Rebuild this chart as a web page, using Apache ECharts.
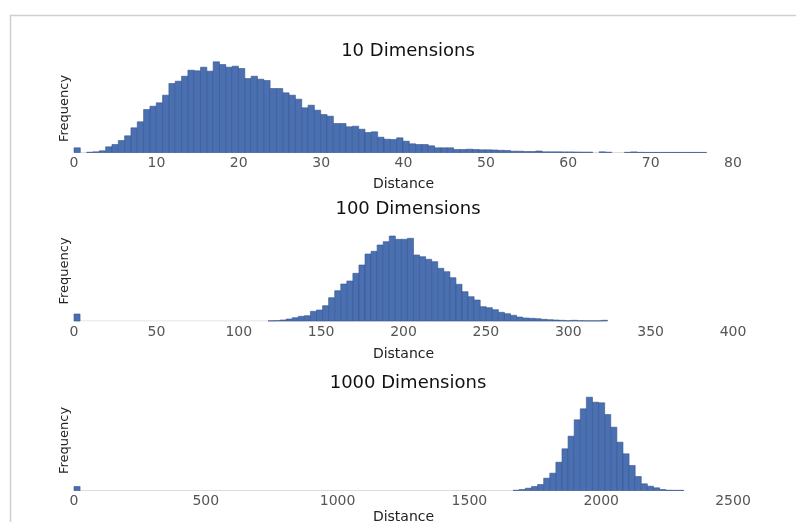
<!DOCTYPE html>
<html>
<head>
<meta charset="utf-8">
<script src="https://cdn.jsdelivr.net/npm/echarts@6/dist/echarts.min.js"></script>
<style>
html,body{margin:0;padding:0;background:#fff;}
#c{width:796px;height:522px;}
</style>
</head>
<body>
<div id="c"></div>
<script>
// ---------- DATA ----------
const titles = ['10 Dimensions', '100 Dimensions', '1000 Dimensions'];
const xMax = [80, 400, 2500];
const xInterval = [10, 50, 500];
const binWidths = [0.768, 3.68, 23.14];

// frequencies per bin, bin i covers [i*w, (i+1)*w]
const counts10 = [
  47, 0, 3, 7, 17, 57, 80, 120, 167, 247,
  307, 430, 463, 497, 573, 690, 713, 763, 823, 817,
  853, 813, 907, 880, 853, 863, 840, 740, 763, 733,
  720, 640, 640, 597, 573, 533, 447, 473, 423, 380,
  363, 290, 290, 257, 263, 233, 200, 207, 153, 133,
  130, 147, 113, 87, 80, 80, 67, 47, 47, 47,
  30, 30, 33, 30, 27, 27, 25, 22, 20, 13,
  13, 10, 10, 15, 7, 7, 7, 6, 6, 5,
  4, 4, 0, 7, 3, 0, 0, 2, 6, 2,
  1, 1, 1, 1, 1, 1, 1, 1, 1, 1
];
const counts100 = [
  70, 0, 0, 0, 0, 0, 0, 0, 0, 0,
  0, 0, 0, 0, 0, 0, 0, 0, 0, 0,
  0, 0, 0, 0, 0, 0, 0, 0, 0, 0,
  0, 0, 2, 4, 10, 20, 33, 47, 53, 97,
  110, 153, 233, 303, 370, 400, 477, 560, 670, 697,
  760, 793, 850, 817, 817, 827, 660, 643, 617, 593,
  527, 493, 433, 367, 293, 243, 210, 143, 133, 113,
  87, 73, 57, 40, 30, 27, 23, 17, 13, 10,
  7, 3, 7, 3, 2, 2, 2, 7
];
const counts1000 = [
  40, 0, 0, 0, 0, 0, 0, 0, 0, 0,
  0, 0, 0, 0, 0, 0, 0, 0, 0, 0,
  0, 0, 0, 0, 0, 0, 0, 0, 0, 0,
  0, 0, 0, 0, 0, 0, 0, 0, 0, 0,
  0, 0, 0, 0, 0, 0, 0, 0, 0, 0,
  0, 0, 0, 0, 0, 0, 0, 0, 0, 0,
  0, 0, 0, 0, 0, 0, 0, 0, 0, 0,
  0, 0, 3, 10, 23, 40, 60, 123, 173, 283,
  417, 543, 707, 817, 933, 883, 877, 760, 633, 483,
  367, 250, 140, 67, 43, 27, 10, 3, 2, 2
];
const allCounts = [counts10, counts100, counts1000];

// ---------- LAYOUT ----------
const gridTop = [64.5, 221, 390.5];
const gridH = [88, 100, 100];
const yMax = [880, 1000, 1000];
const titleY = [51, 209, 383];
const nameGapX = [25, 26, 20];

const FONT = 'DejaVu Sans';
const BAR = '#4a70b2';
const EDGE = '#35558e';

const grids = [], xAxes = [], yAxes = [], series = [], graphics = [];

graphics.push({
  type: 'rect', left: 8, top: 13, z: 0,
  shape: { width: 787, height: 520 },
  style: { fill: 'none', stroke: '#cfcfcf', lineWidth: 1.5 }
});

for (let g = 0; g < 3; g++) {
  const w = binWidths[g];
  const counts = allCounts[g];
  const data = counts.map((c, i) => [i * w, (i + 1) * w, c]);
  const dataMax = counts.length * w;

  grids.push({ left: 74, width: 659, top: gridTop[g], height: gridH[g],
               containLabel: false, outerBoundsMode: 'none' });
  xAxes.push({
    type: 'value', gridIndex: g, min: 0, max: xMax[g], interval: xInterval[g],
    axisLine: { show: false }, axisTick: { show: false }, splitLine: { show: false },
    axisLabel: { margin: 4, fontFamily: FONT, fontSize: 14, color: '#555',
                 formatter: function (v) { return String(v); } },
    name: 'Distance', nameLocation: 'middle', nameGap: nameGapX[g],
    nameTextStyle: { fontFamily: FONT, fontSize: 14, color: '#222' }
  });
  yAxes.push({
    type: 'value', gridIndex: g, min: 0, max: yMax[g],
    axisLine: { show: false }, axisTick: { show: false }, splitLine: { show: false },
    axisLabel: { show: false },
    name: 'Frequency', nameLocation: 'middle', nameGap: 3,
    nameTextStyle: { fontFamily: FONT, fontSize: 13, color: '#222' }
  });
  series.push({
    type: 'line', xAxisIndex: g, yAxisIndex: g, z: 1,
    data: [[0, 0], [dataMax, 0]], symbol: 'none', silent: true,
    lineStyle: { color: '#dcdcdc', width: 1 }
  });
  series.push({
    type: 'custom', xAxisIndex: g, yAxisIndex: g, z: 2,
    data: data, encode: { x: [0, 1], y: 2 },
    renderItem: function (params, api) {
      const v = api.value(2);
      if (!(v > 0)) return null;
      const p0 = api.coord([api.value(0), v]);
      const p1 = api.coord([api.value(1), 0]);
      return {
        type: 'rect',
        shape: { x: p0[0], y: p0[1], width: p1[0] - p0[0], height: p1[1] - p0[1] },
        style: { fill: BAR, stroke: EDGE, lineWidth: 0.6 }
      };
    }
  });
  graphics.push({
    type: 'text', x: 408, y: titleY[g], z: 10,
    style: { text: titles[g], fontFamily: FONT, fontSize: 18, fill: '#111',
             textAlign: 'center', textVerticalAlign: 'middle' }
  });
}

const chart = echarts.init(document.getElementById('c'), null, { renderer: 'canvas' });
chart.setOption({
  animation: false,
  backgroundColor: '#fff',
  grid: grids, xAxis: xAxes, yAxis: yAxes, series: series, graphic: graphics
});
</script>
</body>
</html>
